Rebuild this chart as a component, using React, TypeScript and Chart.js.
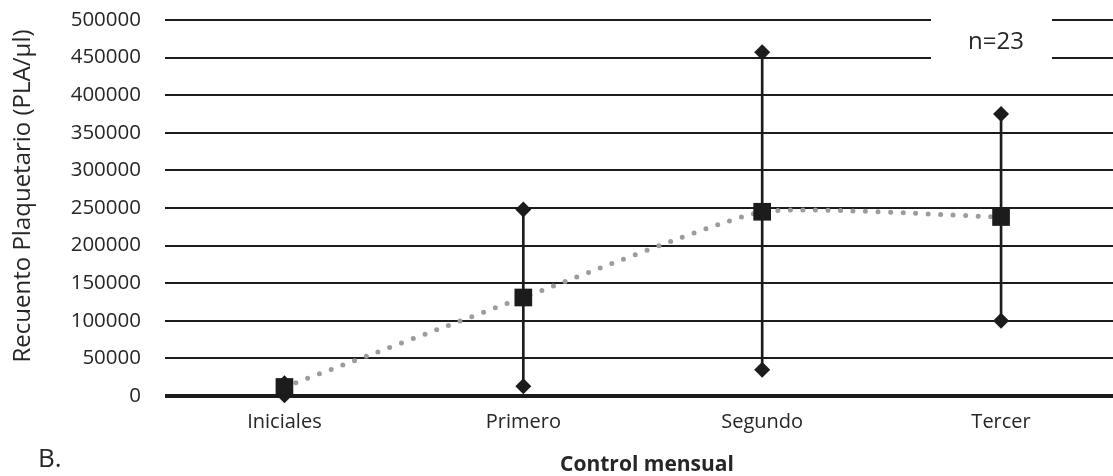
import React, { useEffect, useRef } from "react";
import { Chart, registerables } from "chart.js";

Chart.register(...registerables);

// ---- Data ----
const categories = ["Iniciales", "Primero", "Segundo", "Tercer"];
const meanValues = [12000, 131000, 245000, 238000];
const minValues = [1000, 13000, 35000, 100000];
const maxValues = [17000, 248000, 457000, 375000];
const yMin = 0;
const yMax = 500000;
const yStep = 50000;
const yAxisTitle = "Recuento Plaquetario (PLA/µl)";
const xAxisTitle = "Control mensual";
const panelLabel = "B.";
const sampleNote = "n=23";

const FONT = "'Open Sans', 'Noto Sans', sans-serif";
const TEXT = "#262626";
const INK = "#1c1c1c";

const annotationsPlugin = {
  id: "annotations",
  afterDraw(chart: any) {
    const ctx = chart.ctx;
    ctx.save();
    // n=23 box
    ctx.fillStyle = "#ffffff";
    ctx.fillRect(931, 8, 121, 62);
    ctx.fillStyle = TEXT;
    ctx.font = `24px ${FONT}`;
    ctx.textAlign = "center";
    ctx.textBaseline = "middle";
    ctx.fillText(sampleNote, 996, 42);
    // y axis title
    ctx.save();
    ctx.translate(23, 196);
    ctx.rotate(-Math.PI / 2);
    ctx.font = `24px ${FONT}`;
    ctx.fillText(yAxisTitle, 0, 0);
    ctx.restore();
    // x axis title
    ctx.font = `bold 21px ${FONT}`;
    ctx.fillText(xAxisTitle, 647, 465);
    // panel label
    ctx.font = `26px ${FONT}`;
    ctx.textAlign = "left";
    ctx.fillText(panelLabel, 38, 460);
    ctx.restore();
  },
};

export default function App() {
  const canvasRef = useRef<HTMLCanvasElement | null>(null);

  useEffect(() => {
    if (!canvasRef.current) return;
    const chart = new Chart(canvasRef.current, {
      type: "bar",
      data: {
        labels: categories,
        datasets: [
          {
            type: "bar",
            label: "Rango",
            data: categories.map((_, i) => [minValues[i], maxValues[i]]) as any,
            backgroundColor: INK,
            barThickness: 2,
            order: 4,
          } as any,
          {
            type: "line",
            label: "Máximo",
            data: maxValues,
            showLine: false,
            pointStyle: "rectRot",
            pointRadius: 8,
            pointBackgroundColor: INK,
            pointBorderWidth: 0,
            clip: false,
            order: 3,
          },
          {
            type: "line",
            label: "Mínimo",
            data: minValues,
            showLine: false,
            pointStyle: "rectRot",
            pointRadius: 8,
            pointBackgroundColor: INK,
            pointBorderWidth: 0,
            clip: false,
            order: 3,
          },
          {
            type: "line",
            label: "Media",
            data: meanValues,
            borderColor: "#9c9c9c",
            borderWidth: 5,
            borderDash: [0, 12.5],
            borderCapStyle: "round",
            tension: 0.15,
            pointStyle: "rect",
            pointRadius: 12.5,
            pointBackgroundColor: INK,
            pointBorderWidth: 0,
            clip: false,
            order: 1,
          } as any,
        ],
      },
      options: {
        animation: false,
        responsive: true,
        maintainAspectRatio: false,
        layout: { padding: { top: 20, right: 1, left: 0, bottom: 0 } },
        plugins: {
          legend: { display: false },
          tooltip: { enabled: false },
        },
        scales: {
          x: {
            grid: { display: false, drawTicks: false },
            border: { display: false },
            ticks: {
              color: TEXT,
              font: { family: FONT, size: 20 },
              padding: 14,
            },
            afterFit: (scale: any) => {
              scale.height = 80;
            },
          },
          y: {
            min: yMin,
            max: yMax,
            grid: {
              drawTicks: true,
              tickLength: 24,
              tickColor: "rgba(0,0,0,0)",
              color: INK,
              lineWidth: (ctx: any) => (ctx.tick && ctx.tick.value === 0 ? 4 : 2),
            },
            border: { display: false },
            ticks: {
              stepSize: yStep,
              color: TEXT,
              font: { family: FONT, size: 20.5 },
              padding: 0,
              callback: (v: any) => String(v),
            },
            afterFit: (scale: any) => {
              scale.width = 165;
            },
          },
        },
      },
      plugins: [annotationsPlugin],
    } as any);
    return () => chart.destroy();
  }, []);

  return (
    <div
      style={{
        position: "fixed",
        left: 0,
        top: 0,
        width: 1113,
        height: 476,
        overflow: "hidden",
        background: "#ffffff",
      }}
    >
      <div style={{ position: "relative", width: 1133, height: 476 }}>
        <canvas ref={canvasRef} />
      </div>
    </div>
  );
}
